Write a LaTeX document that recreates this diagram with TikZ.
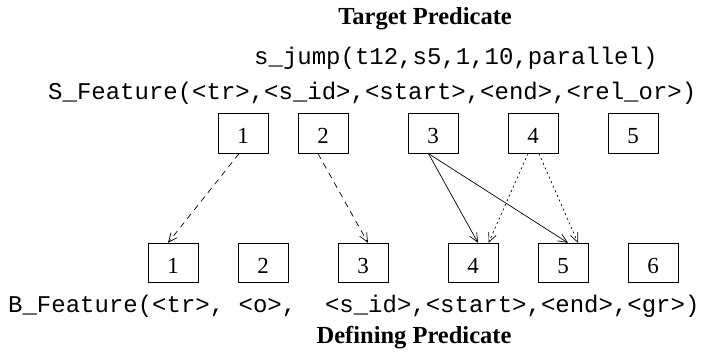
\documentclass[tikz,border=0pt]{standalone}
\usepackage{fontspec}
\setmainfont{Liberation Serif}
\setmonofont{Liberation Mono}
\usetikzlibrary{arrows.meta}
\begin{document}
\begin{tikzpicture}[x=1pt,y=-1pt,
  numbox/.style={draw,line width=0.8pt,minimum width=50pt,minimum height=39.5pt,inner sep=0pt,text height=20.5pt,text depth=0pt,font=\fontsize{23}{23}\selectfont},
  codetext/.style={inner sep=0pt,anchor=base west,font=\ttfamily\fontsize{24}{24}\selectfont},
  titletext/.style={inner sep=0pt,anchor=base,font=\bfseries\fontsize{24.5}{24.5}\selectfont},
  link/.style={line width=0.7pt,-{Straight Barb[length=9pt,width=8pt,line width=0.7pt]}},
  dashlink/.style={link,dash pattern=on 6pt off 5pt},
  dotlink/.style={link,dash pattern=on 2pt off 3pt}]
\useasboundingbox (0,0) rectangle (703,358);
% texts
\node[titletext] (ttl) at (425,25) {Target Predicate};
\node[codetext] (sj) at (254,65) {s\_jump(t12,s5,1,10,parallel)};
\node[codetext] (sf) at (48,100) {S\_Feature(<tr>,<s\_id>,<start>,<end>,<rel\_or>)};
\node[codetext] (bf) at (8,312) {B\_Feature(<tr>, <o>,\ \ <s\_id>,<start>,<end>,<gr>)};
\node[titletext] (dtl) at (414,343) {Defining Predicate};
% top boxes
\node[numbox] (t1) at (243,133.5) {1};
\node[numbox] (t2) at (323,133.5) {2};
\node[numbox] (t3) at (433,133.5) {3};
\node[numbox] (t4) at (533,133.5) {4};
\node[numbox] (t5) at (633,133.5) {5};
% bottom boxes
\node[numbox] (b1) at (173,263) {1};
\node[numbox] (b2) at (263,263) {2};
\node[numbox] (b3) at (363,263) {3};
\node[numbox] (b4) at (473,263) {4};
\node[numbox] (b5) at (563,263) {5};
\node[numbox] (b6) at (653,263) {6};
% connectors
\draw[dashlink] ([xshift=-4pt]t1.south) -- ([xshift=-5pt]b1.north);
\draw[dashlink] ([xshift=-5pt]t2.south) -- ([xshift=5pt]b3.north);
\draw[link] ([xshift=-4.5pt]t3.south) -- ([xshift=5pt]b4.north);
\draw[link] ([xshift=-4.5pt]t3.south) -- ([xshift=5pt]b5.north);
\draw[dotlink] ([xshift=-5pt]t4.south) -- ([xshift=15.5pt]b4.north);
\draw[dotlink] ([xshift=6pt]t4.south) -- ([xshift=15pt]b5.north);
\end{tikzpicture}
\end{document}
